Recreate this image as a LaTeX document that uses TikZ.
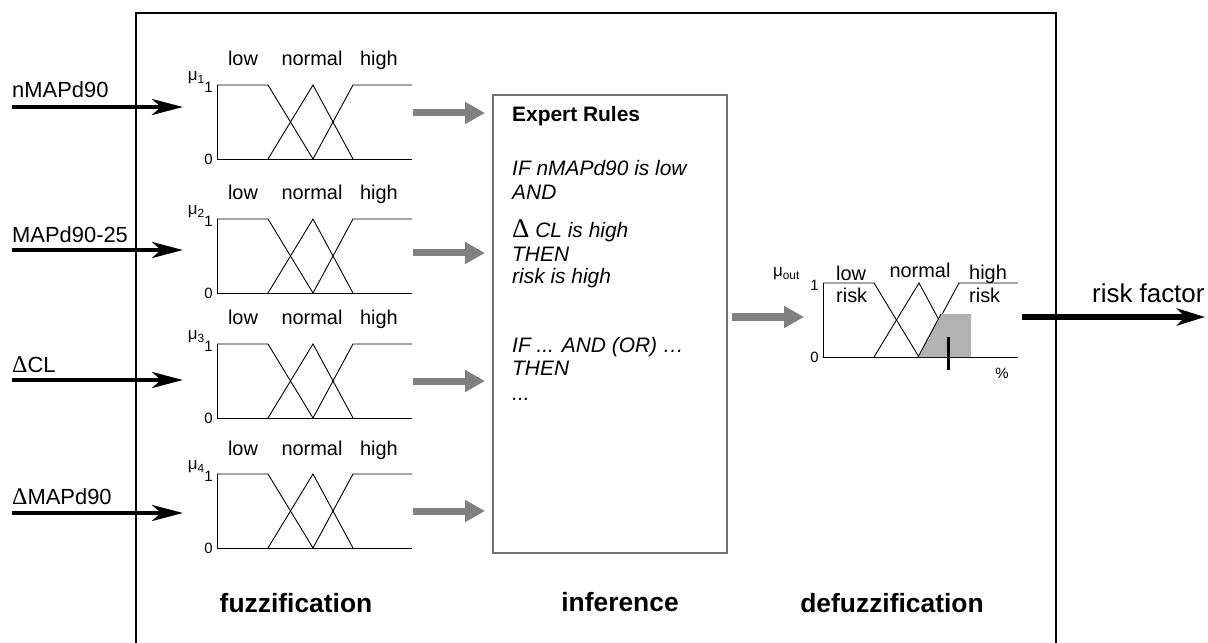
\documentclass[tikz,border=0pt]{standalone}
\usepackage{fontspec}
\setmainfont{Liberation Sans}
\newfontfamily\deltafont{Liberation Serif}
\usetikzlibrary{arrows.meta}

\newcommand{\fsz}[1]{\fontsize{#1}{#1}\selectfont}

\begin{document}
\begin{tikzpicture}[
    x=1bp, y=-1bp,
    frame/.style={line width=2.5bp, black},
    in arrow/.style={line width=4bp, -{Stealth[length=31bp, width=16bp, inset=9bp]}},
    flow arrow/.style={line width=7bp, black!50, -{Triangle[length=20bp, width=21bp]}},
    out arrow/.style={line width=5bp, -{Stealth[length=28bp, width=17bp, inset=8bp]}},
    mf line/.style={line width=0.9bp, black},
    input label/.style={font=\fsz{22}, anchor=base west, inner sep=0pt},
    term/.style={font=\fsz{20}, anchor=base, inner sep=0pt},
    tick/.style={font=\fsz{15}, anchor=east, inner sep=0pt},
    mu/.style={font=\fsz{17}, anchor=east, inner sep=0pt},
    rule text/.style={font=\fsz{21}\itshape, anchor=base west, inner sep=0pt},
    stage/.style={font=\fsz{26.5}\bfseries, inner sep=0pt},
    rulebox/.style={draw=black!55, line width=1.5bp, minimum width=234bp, minimum height=458bp, inner sep=0pt},
    pics/mf curves/.style={code={
        \draw[mf line] (0,0) -- (0,74) -- (195,74);
        \draw[mf line] (0,0) -- (51,0) -- (96,74);
        \draw[mf line] (51,74) -- (96,0) -- (136,74);
        \draw[mf line] (96,74) -- (136,0) -- (195,0);
        \node[tick] (-one) at (-4,2) {1};
        \node[tick] (-zero) at (-4,74) {0};
    }},
    pics/mf chart/.style={code={
        \pic {mf curves};
        \node[mu] (-mu) at (-12,-7) {μ\textsubscript{#1}};
        \node[term] (-low) at (26,-19) {low};
        \node[term] (-normal) at (95,-19) {normal};
        \node[term] (-high) at (162,-19) {high};
    }}
]
    \useasboundingbox (0,0) rectangle (1208,643);

    % --- RAMKA ---
    \draw[frame] (136,660) -- (136,13) -- (1056,13) -- (1056,660);

    % --- WEJSCIA ---
    \coordinate (in1) at (12,107);  \coordinate (f1) at (183,107);
    \coordinate (in2) at (12,250);  \coordinate (f2) at (183,250);
    \coordinate (in3) at (12,380);  \coordinate (f3) at (183,380);
    \coordinate (in4) at (12,513);  \coordinate (f4) at (183,513);
    \node[input label] (l1) at (12,98) {nMAPd90};
    \node[input label] (l2) at (12,243) {MAPd90-25};
    \node[input label] (l3) at (12,372) {{\deltafont\fsz{24}Δ}CL};
    \node[input label] (l4) at (12,504) {{\deltafont\fsz{24}Δ}MAPd90};
    \draw[in arrow] (in1) -- (f1);
    \draw[in arrow] (in2) -- (f2);
    \draw[in arrow] (in3) -- (f3);
    \draw[in arrow] (in4) -- (f4);

    % --- FUZZYFIKACJA ---
    \pic (c1) at (217,85) {mf chart=1};
    \pic (c2) at (217,219) {mf chart=2};
    \pic (c3) at (217,344) {mf chart=3};
    \pic (c4) at (217,474) {mf chart=4};

    % --- WNIOSKOWANIE ---
    \node[rulebox] (rules) at (610,324) {};
    \node[rule text, font=\fsz{21}\bfseries] (r1) at (512,122) {Expert Rules};
    \node[rule text] (r2) at (512,176) {IF nMAPd90 is low};
    \node[rule text] (r3) at (512,200) {AND};
    \node[rule text] (r4) at (512,238) {{\deltafont\upshape\fsz{27}Δ} CL is high};
    \node[rule text] (r5) at (512,262) {THEN};
    \node[rule text] (r6) at (512,284) {risk is high};
    \node[rule text] (r7) at (512,353) {IF ... AND (OR) …};
    \node[rule text] (r8) at (512,375) {THEN};
    \node[rule text] (r9) at (512,400) {...};

    \coordinate (g1) at (413,113);  \coordinate (h1) at (485,113);
    \coordinate (g2) at (413,253);  \coordinate (h2) at (485,253);
    \coordinate (g3) at (413,381);  \coordinate (h3) at (485,381);
    \coordinate (g4) at (413,511);  \coordinate (h4) at (485,511);
    \draw[flow arrow] (g1) -- (h1);
    \draw[flow arrow] (g2) -- (h2);
    \draw[flow arrow] (g3) -- (h3);
    \draw[flow arrow] (g4) -- (h4);

    % --- DEFUZZYFIKACJA ---
    \pic (out) at (823,283) {mf curves};
    \fill[black!30] (918,357) -- (941,314) -- (971,314) -- (971,357) -- cycle;
    \draw[mf line] (918,357) -- (941,314);
    \draw[line width=3bp] (948,337) -- (948,370);
    \node[mu] (muout) at (800,274) {μ\textsubscript{out}};
    \node[term, anchor=base west] (lowa) at (836,281) {low};
    \node[term, anchor=base west] (lowb) at (836,303) {risk};
    \node[term] (norm) at (920,278) {normal};
    \node[term, anchor=base west] (higha) at (969,280) {high};
    \node[term, anchor=base west] (highb) at (969,303) {risk};
    \node[tick, anchor=center] (pct) at (1002,373) {\%};

    \coordinate (g5) at (732,317);  \coordinate (h5) at (804,317);
    \draw[flow arrow] (g5) -- (h5);

    % --- WYJSCIE ---
    \coordinate (o1) at (1022,317);  \coordinate (o2) at (1205,317);
    \draw[out arrow] (o1) -- (o2);
    \node[input label, font=\fsz{26}] (risk) at (1092,303) {risk factor};

    % --- ETAPY ---
    \node[stage] (s1) at (296,603) {fuzzification};
    \node[stage] (s2) at (620,602) {inference};
    \node[stage] (s3) at (892,603) {defuzzification};

\end{tikzpicture}
\end{document}
